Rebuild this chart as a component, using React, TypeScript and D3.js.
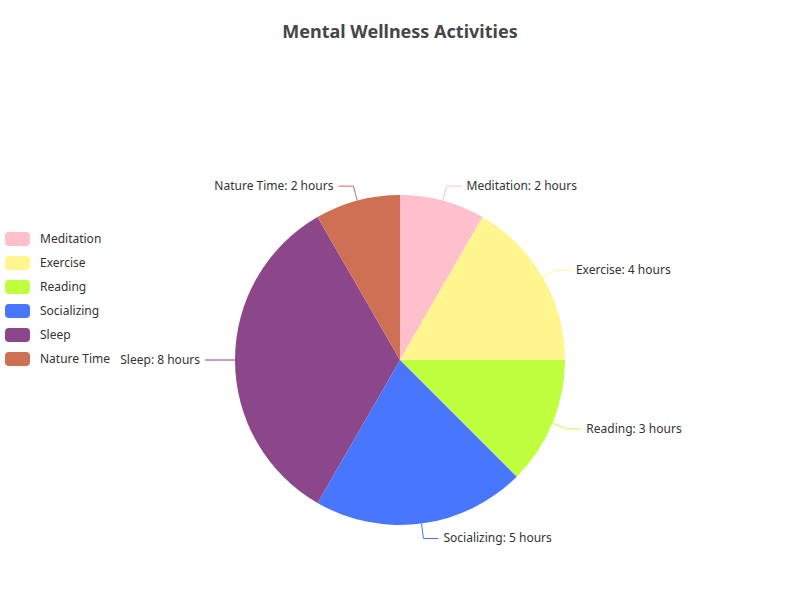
import React, { useEffect, useRef } from 'react'
import * as d3 from 'd3'

const categories = ['Meditation', 'Exercise', 'Reading', 'Socializing', 'Sleep', 'Nature Time']
const hours = [2, 4, 3, 5, 8, 2]
const colours = ['#FFC0CB', '#FFF68F', '#C0FF3E', '#4876FF', '#8B4789', '#CD7054']

const W = 800
const H = 600
const font = '"Noto Sans", "Open Sans", sans-serif'

export default function App() {
  const ref = useRef<SVGSVGElement>(null)

  useEffect(() => {
    const svg = d3.select(ref.current)
    svg.selectAll('*').remove()

    const data = categories.map((name, i) => ({ name, value: hours[i], colour: colours[i] }))
    const cx = 400
    const cy = 360
    const radius = 165
    const len1 = 15
    const len2 = 15

    svg.append('text')
      .attr('x', W / 2)
      .attr('y', 38)
      .attr('text-anchor', 'middle')
      .attr('font-family', font)
      .attr('font-size', 18)
      .attr('font-weight', 'bold')
      .attr('fill', '#464646')
      .text('Mental Wellness Activities')

    const pie = d3.pie<any>().value(d => d.value).sort(null)
    const arc = d3.arc<any>().innerRadius(0).outerRadius(radius)
    const arcs = pie(data)

    const g = svg.append('g').attr('transform', `translate(${cx},${cy})`)

    g.selectAll('path.slice')
      .data(arcs)
      .enter().append('path')
      .attr('class', 'slice')
      .attr('d', arc)
      .attr('fill', d => d.data.colour)

    arcs.forEach(d => {
      const mid = (d.startAngle + d.endAngle) / 2
      const sx = Math.sin(mid)
      const sy = -Math.cos(mid)
      const p0 = [sx * radius, sy * radius]
      const p1 = [sx * (radius + len1), sy * (radius + len1)]
      const right = sx >= 0
      const p2 = [p1[0] + (right ? len2 : -len2), p1[1]]
      g.append('polyline')
        .attr('points', [p0, p1, p2].map(p => p.join(',')).join(' '))
        .attr('fill', 'none')
        .attr('stroke', d.data.colour)
        .attr('stroke-width', 1)
      g.append('text')
        .attr('x', p2[0] + (right ? 5 : -5))
        .attr('y', p2[1])
        .attr('dy', '0.32em')
        .attr('text-anchor', right ? 'start' : 'end')
        .attr('font-family', font)
        .attr('font-size', 12)
        .attr('fill', '#333')
        .text(`${d.data.name}: ${d.data.value} hours`)
    })

    const legend = svg.append('g')
    data.forEach((d, i) => {
      const y = 239 + i * 24
      legend.append('rect')
        .attr('x', 5)
        .attr('y', y - 7)
        .attr('width', 25)
        .attr('height', 14)
        .attr('rx', 4)
        .attr('fill', d.colour)
      legend.append('text')
        .attr('x', 40)
        .attr('y', y)
        .attr('dy', '0.32em')
        .attr('font-family', font)
        .attr('font-size', 12)
        .attr('fill', '#333')
        .text(d.name)
    })
  }, [])

  return (
    <svg ref={ref} width={W} height={H} style={{ position: 'absolute', left: 0, top: 0, background: '#fff' }} />
  )
}
